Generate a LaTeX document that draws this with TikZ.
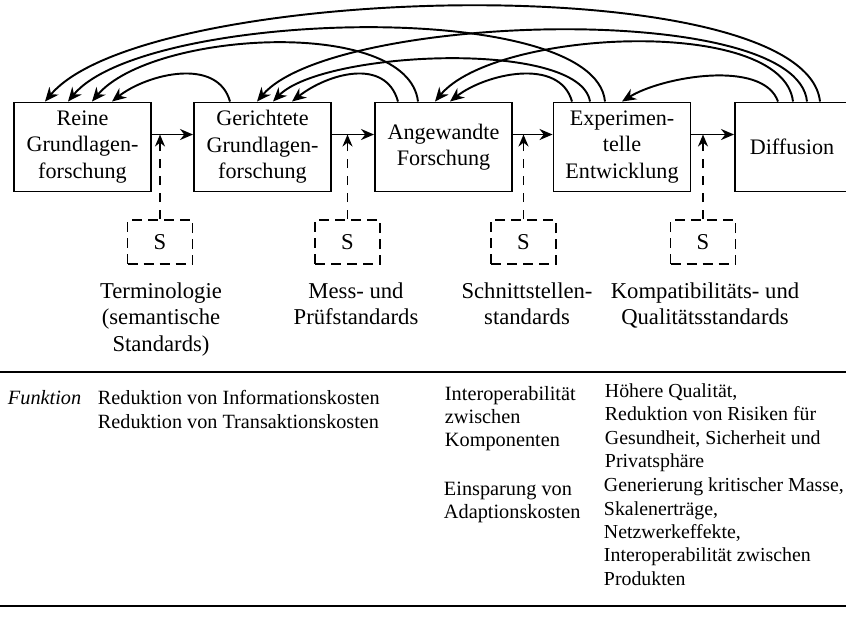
\documentclass[tikz,border=0pt]{standalone}
\usepackage{fontspec}
\setmainfont{Liberation Serif}
\usetikzlibrary{arrows.meta, positioning, calc}
\tikzset{
  every picture/.style={line width=1.1pt},
  stage/.style={draw, align=center, minimum width=2.74cm, minimum height=1.78cm, inner sep=1pt, font=\fontsize{12.6}{15}\selectfont},
  sbox/.style={draw, dash pattern=on 2mm off 1.2mm, minimum width=1.3cm, minimum height=0.88cm, inner sep=0pt, font=\fontsize{12.9}{15}\selectfont},
  flow/.style={-{Stealth[length=2.6mm, width=2.2mm]}},
  back/.style={-{Stealth[length=2.8mm, width=2.4mm]}},
  dflow/.style={dash pattern=on 1.9mm off 1.5mm, -{Stealth[length=2.4mm, width=2mm]}},
  note/.style={align=center, inner sep=0pt, anchor=north, font=\fontsize{12.9}{15.2}\selectfont},
}

\begin{document}
\begin{tikzpicture}[
  cell/.style={align=left, inner sep=0pt, anchor=north west, font=\fontsize{11.3}{13.3}\selectfont}]
  \useasboundingbox (0,0) rectangle (16.92,-12.32);
  \node[stage] (b1) at (1.65,-2.94) {Reine\\Grundlagen-\\forschung};
  \node[stage] (b2) at (5.25,-2.94) {Gerichtete\\Grundlagen-\\forschung};
  \node[stage] (b3) at (8.87,-2.94) {Angewandte\\Forschung};
  \node[stage] (b4) at (12.44,-2.94) {Experimen-\\telle\\Entwicklung};
  \node[stage, minimum width=2.28cm] (b5) at (15.84,-2.94) {Diffusion};

  \draw[flow] ([yshift=2.5mm]b1.east) -- coordinate (m1) ([yshift=2.5mm]b2.west);
  \draw[flow] ([yshift=2.5mm]b2.east) -- coordinate (m2) ([yshift=2.5mm]b3.west);
  \draw[flow] ([yshift=2.5mm]b3.east) -- coordinate (m3) ([yshift=2.5mm]b4.west);
  \draw[flow] ([yshift=2.5mm]b4.east) -- coordinate (m4) ([yshift=2.5mm]b5.west);

  \draw[back] ([xshift=-6.5mm]b2.north) .. controls +(-0.25,0.9) and +(0.7,0.55) .. ([xshift=5.9mm]b1.north);
  \draw[back] ([xshift=-9.1mm]b3.north) .. controls +(-0.25,0.9) and +(0.7,0.55) .. ([xshift=5.9mm]b2.north);
  \draw[back] ([xshift=-10mm]b4.north) .. controls +(-0.25,0.9) and +(0.7,0.55) .. ([xshift=1.3mm]b3.north);
  \draw[back] ([xshift=-2.8mm]b5.north) .. controls +(-0.3,0.85) and +(0.8,0.5) .. (b4.north);
  \draw[back] ([xshift=-5.1mm]b3.north) .. controls +(-0.2,1.7) and +(1.2,1.42) .. ([xshift=1.9mm]b1.north);
  \draw[back] ([xshift=-6.4mm]b4.north) .. controls +(-0.2,1.25) and +(1.0,1.02) .. ([xshift=2.1mm]b2.north);
  \draw[back] ([xshift=0.2mm]b5.north) .. controls +(-0.2,1.72) and +(1.2,1.45) .. ([xshift=-1.7mm]b3.north);
  \draw[back] ([xshift=-3.4mm]b4.north) .. controls +(-0.2,2.1) and +(1.5,1.82) .. ([xshift=-2.9mm]b1.north);
  \draw[back] ([xshift=3mm]b5.north) .. controls +(-0.2,2.05) and +(1.5,1.76) .. ([xshift=-1.1mm]b2.north);
  \draw[back] ([xshift=5.6mm]b5.north) .. controls +(-0.3,2.7) and +(2.0,2.39) .. ([xshift=-7.5mm]b1.north);

  \node[sbox] (s1) at (3.2,-4.84) {S};
  \node[sbox] (s2) at (6.95,-4.84) {S};
  \node[sbox] (s3) at (10.47,-4.84) {S};
  \node[sbox] (s4) at (14.06,-4.84) {S};
  \draw[dflow] (s1.north) -- (s1.north |- m1);
  \draw[dflow] (s2.north) -- (s2.north |- m2);
  \draw[dflow] (s3.north) -- (s3.north |- m3);
  \draw[dflow] (s4.north) -- (s4.north |- m4);

  \node[note] (l1) at (3.22,-5.63) {Terminologie\\(semantische\\Standards)};
  \node[note] (l2) at (7.12,-5.63) {Mess- und\\Prüfstandards};
  \node[note] (l3) at (10.54,-5.63) {Schnittstellen-\\standards};
  \node[note] (l4) at (14.1,-5.63) {Kompatibilitäts- und\\Qualitätsstandards};

  \draw (0,-7.44) -- (16.92,-7.44);
  \draw (0,-12.12) -- (16.92,-12.12);

  \node[cell, font=\fontsize{11.55}{13.5}\selectfont\itshape] (fk) at (0.14,-7.78) {Funktion};
  \node[cell, font=\fontsize{11.5}{13.5}\selectfont] (ka) at (1.94,-7.79) {Reduktion von Informationskosten\\Reduktion von Transaktionskosten};
  \node[cell, font=\fontsize{11.55}{13.3}\selectfont] (kb) at (8.88,-7.70) {Interoperabilität\\zwischen\\Komponenten};
  \node[cell] (kc) at (12.08,-7.65) {Höhere Qualität,\\Reduktion von Risiken für\\Gesundheit, Sicherheit und\\Privatsphäre};
  \node[cell, font=\fontsize{11.55}{13.3}\selectfont] (kd) at (8.86,-9.62) {Einsparung von\\Adaptionskosten};
  \node[cell] (ke) at (12.06,-9.54) {Generierung kritischer Masse,\\Skalenerträge,\\Netzwerkeffekte,\\Interoperabilität zwischen\\Produkten};
\end{tikzpicture}
\end{document}
